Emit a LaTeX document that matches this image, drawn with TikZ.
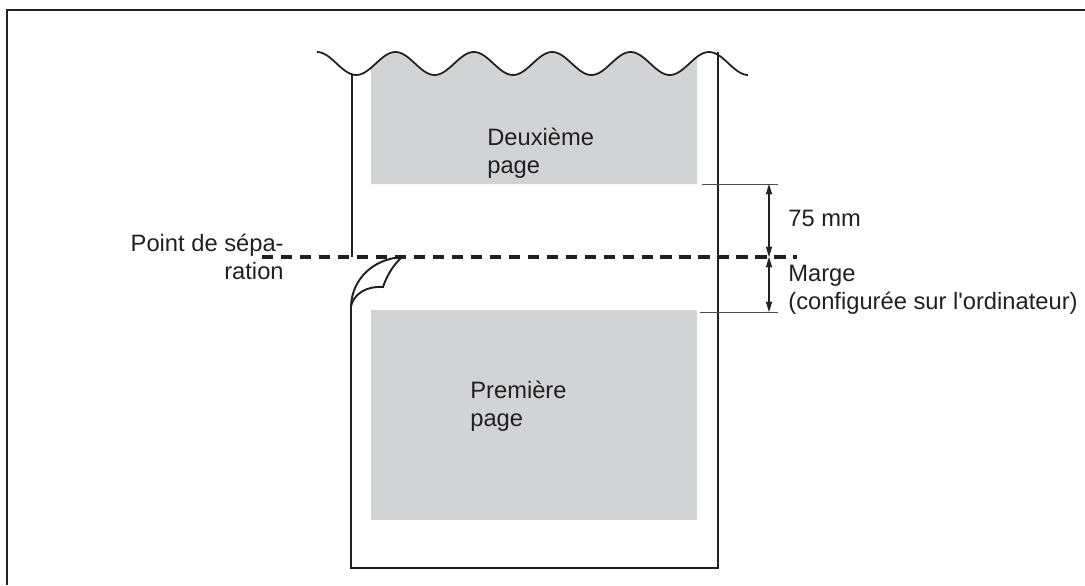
\documentclass[tikz,border=0pt]{standalone}
\usepackage{fontspec}
\setmainfont{Liberation Sans}
\usetikzlibrary{arrows.meta}
\definecolor{pagegray}{RGB}{209,211,212}
\definecolor{inkline}{RGB}{35,31,32}
\tikzset{
  paper/.style={draw=inkline, line width=1.3pt},
  cutline/.style={draw=inkline, line width=2.7pt, dash pattern=on 6.5pt off 4.3pt},
  extline/.style={draw=inkline!80, line width=0.5pt},
  dimarrow/.style={draw=inkline, line width=0.6pt, {Stealth[length=6pt,width=3.6pt,inset=0.6pt]}-{Stealth[length=6pt,width=3.6pt,inset=0.6pt]}},
  lbl/.style={font=\fontsize{13.5}{16}\selectfont, text=inkline, inner sep=0pt}
}
\begin{document}
\begin{tikzpicture}[x=0.02cm, y=-0.02cm]
    \useasboundingbox (0,0) rectangle (1085,585);
    % Cornice
    \draw[inkline, line width=1.2pt] (7,585) -- (7,10) -- (1085,10);
    % Zone grigie
    \fill[pagegray] plot[domain=371:697, samples=120] (\x, {63.5-11.5*cos(4.5918*(\x-317))})
        -- (697,184) -- (371,184) -- cycle;
    \fill[pagegray] (371,310) rectangle (697,520);
    % Seconda pagina (bordo ondulato)
    \draw[inkline, line width=1pt] plot[domain=317:748, samples=200, smooth] (\x, {63.5-11.5*cos(4.5918*(\x-317))});
    \draw[paper] (352,75) -- (352,257);
    \draw[paper] (718,52) -- (718,568) -- (351,568) -- (351,306);
    % Angolo arricciato
    \coordinate (tip) at (402,257);
    \coordinate (cusp) at (383,287);
    \coordinate (foot) at (351,306);
    \draw[inkline, line width=1.1pt] (tip) .. controls (372,259) and (352,280) .. (foot);
    \draw[inkline, line width=1.1pt] (tip) .. controls (392,266) and (386,278) .. (cusp)
        .. controls (366,286) and (354,294) .. (foot);
    % Linea di separazione
    \coordinate (cutL) at (262,257);
    \coordinate (cutR) at (797,257);
    \draw[cutline] (cutL) -- (cutR);
    % Quote
    \coordinate (d1) at (769,184);
    \coordinate (d2) at (769,257);
    \coordinate (d3) at (769,312);
    \draw[extline] (702,184) -- (778,184);
    \draw[extline] (700,312) -- (778,312);
    \draw[dimarrow] (d1) -- (d2);
    \draw[dimarrow] (d2) -- (d3);
    % Testi
    \node[lbl, anchor=west, align=left] (second) at (487,153) {Deuxième\\page};
    \node[lbl, anchor=west, align=left] (first) at (470,406) {Première\\page};
    \node[lbl, anchor=east, align=right] (sep) at (284,257) {Point de sépa-\\ration};
    \node[lbl, anchor=west] (dist) at (788,218) {75 mm};
    \node[lbl, anchor=west, align=left] (marge) at (788,290) {Marge\\(configurée sur l\textquotesingle ordinateur)};
\end{tikzpicture}
\end{document}
